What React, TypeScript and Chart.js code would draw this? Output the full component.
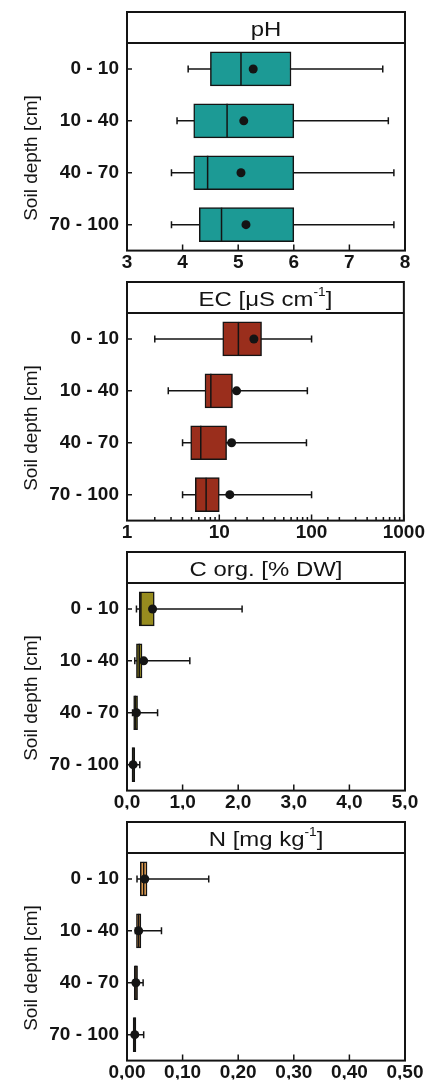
import React, { useEffect, useRef } from 'react';
import { Chart, registerables } from 'chart.js';

Chart.register(...registerables);

const depthLabels = ['0 - 10', '10 - 40', '40 - 70', '70 - 100'];
const yAxisTitle = 'Soil depth [cm]';

// pH
const phMin = [4.1, 3.9, 3.8, 3.8];
const phQ1 = [4.5, 4.2, 4.2, 4.3];
const phMedian = [5.05, 4.8, 4.45, 4.7];
const phQ3 = [5.95, 6.0, 6.0, 6.0];
const phMax = [7.6, 7.7, 7.8, 7.8];
const phMean = [5.27, 5.1, 5.05, 5.14];

// EC [µS cm-1]
const ecMin = [2.0, 2.8, 4.0, 4.0];
const ecQ1 = [10.9, 7.0, 4.9, 5.5];
const ecMedian = [16.1, 8.1, 6.3, 7.2];
const ecQ3 = [28.7, 13.9, 12.0, 10.0];
const ecMax = [100, 90, 88, 100];
const ecMean = [23.7, 15.4, 13.6, 13.0];

// C org [% DW]
const cMin = [0.17, 0.14, 0.1, 0.08];
const cQ1 = [0.22, 0.17, 0.12, 0.09];
const cMedian = [0.25, 0.22, 0.15, 0.11];
const cQ3 = [0.49, 0.27, 0.19, 0.14];
const cMax = [2.07, 1.13, 0.55, 0.23];
const cMean = [0.46, 0.3, 0.17, 0.11];

// N [mg kg-1]
const nMin = [0.018, 0.015, 0.012, 0.01];
const nQ1 = [0.024, 0.017, 0.013, 0.011];
const nMedian = [0.03, 0.021, 0.016, 0.014];
const nQ3 = [0.036, 0.025, 0.019, 0.016];
const nMax = [0.147, 0.062, 0.029, 0.03];
const nMean = [0.032, 0.021, 0.016, 0.014];

const FONT = '"Liberation Sans", Arial, Helvetica, sans-serif';
const INK = '#141414';

type Seg = { t: string; sup?: boolean };

interface PanelCfg {
  title: Seg[];
  color: string;
  min: number[];
  q1: number[];
  med: number[];
  q3: number[];
  max: number[];
  mean: number[];
  log: boolean;
  xMin: number;
  xMax: number;
  step?: number;
  fmt: (v: number) => string;
}

const panels: PanelCfg[] = [
  {
    title: [{ t: 'pH' }],
    color: '#1c9a95',
    min: phMin, q1: phQ1, med: phMedian, q3: phQ3, max: phMax, mean: phMean,
    log: false, xMin: 3, xMax: 8, step: 1,
    fmt: (v) => String(Math.round(v)),
  },
  {
    title: [{ t: 'EC [μS cm' }, { t: '-1', sup: true }, { t: ']' }],
    color: '#9a2e1c',
    min: ecMin, q1: ecQ1, med: ecMedian, q3: ecQ3, max: ecMax, mean: ecMean,
    log: true, xMin: 1, xMax: 1000,
    fmt: (v) => {
      const l = Math.log10(v);
      return Math.abs(l - Math.round(l)) < 1e-6 ? String(Math.round(v)) : '';
    },
  },
  {
    title: [{ t: 'C org. [% DW]' }],
    color: '#978c1f',
    min: cMin, q1: cQ1, med: cMedian, q3: cQ3, max: cMax, mean: cMean,
    log: false, xMin: 0, xMax: 5, step: 1,
    fmt: (v) => v.toFixed(1).replace('.', ','),
  },
  {
    title: [{ t: 'N [mg kg' }, { t: '-1', sup: true }, { t: ']' }],
    color: '#e9a252',
    min: nMin, q1: nQ1, med: nMedian, q3: nQ3, max: nMax, mean: nMean,
    log: false, xMin: 0, xMax: 0.5, step: 0.1,
    fmt: (v) => v.toFixed(2).replace('.', ','),
  },
];

function makePlugin(cfg: PanelCfg) {
  return {
    id: 'boxDecor',
    beforeDatasetsDraw(chart: any) {
      const { ctx } = chart;
      const xs = chart.scales.x;
      const ys = chart.scales.y;
      ctx.save();
      ctx.strokeStyle = INK;
      ctx.lineWidth = 1.5;
      for (let i = 0; i < depthLabels.length; i++) {
        const y = ys.getPixelForValue(i);
        const x1 = xs.getPixelForValue(cfg.min[i]);
        const x2 = xs.getPixelForValue(cfg.max[i]);
        ctx.beginPath();
        ctx.moveTo(x1, y);
        ctx.lineTo(x2, y);
        ctx.moveTo(x1, y - 3.5);
        ctx.lineTo(x1, y + 3.5);
        ctx.moveTo(x2, y - 3.5);
        ctx.lineTo(x2, y + 3.5);
        ctx.stroke();
      }
      ctx.restore();
    },
    afterDatasetDraw(chart: any, args: any) {
      if (args.meta.type !== 'bar') return;
      const { ctx } = chart;
      const xs = chart.scales.x;
      ctx.save();
      ctx.strokeStyle = INK;
      ctx.lineWidth = 1.5;
      args.meta.data.forEach((el: any, i: number) => {
        const x = xs.getPixelForValue(cfg.med[i]);
        const h = el.height / 2;
        ctx.beginPath();
        ctx.moveTo(x, el.y - h);
        ctx.lineTo(x, el.y + h);
        ctx.stroke();
      });
      ctx.restore();
    },
    afterDraw(chart: any) {
      const { ctx, chartArea } = chart;
      const { left, right, top, bottom } = chartArea;
      const xs = chart.scales.x;
      const ys = chart.scales.y;
      ctx.save();
      ctx.strokeStyle = INK;
      // inward ticks
      ctx.lineWidth = 1.5;
      ctx.beginPath();
      xs.ticks.forEach((t: any) => {
        const x = xs.getPixelForValue(t.value);
        let len = 6;
        if (cfg.log) {
          const l = Math.log10(t.value);
          len = Math.abs(l - Math.round(l)) < 1e-6 ? 6 : 3.5;
        }
        ctx.moveTo(x, bottom);
        ctx.lineTo(x, bottom - len);
      });
      for (let i = 0; i < depthLabels.length; i++) {
        const y = ys.getPixelForValue(i);
        ctx.moveTo(left, y);
        ctx.lineTo(left + 5, y);
      }
      ctx.stroke();
      // frame
      const frameTop = top - 31;
      ctx.lineWidth = 2;
      ctx.strokeRect(left, frameTop, right - left, bottom - frameTop);
      ctx.beginPath();
      ctx.moveTo(left, top);
      ctx.lineTo(right, top);
      ctx.stroke();
      // title (slightly widened, as in the reference)
      ctx.fillStyle = INK;
      ctx.textBaseline = 'alphabetic';
      const mainFont = `21px ${FONT}`;
      const supFont = `12px ${FONT}`;
      const sx = 1.14;
      let total = 0;
      cfg.title.forEach((s) => {
        ctx.font = s.sup ? supFont : mainFont;
        total += ctx.measureText(s.t).width;
      });
      const cx = (left + right) / 2;
      const base = frameTop + 24;
      ctx.save();
      ctx.translate(cx, 0);
      ctx.scale(sx, 1);
      let x = -total / 2;
      cfg.title.forEach((s) => {
        ctx.font = s.sup ? supFont : mainFont;
        ctx.textAlign = 'left';
        ctx.fillText(s.t, x, s.sup ? base - 10 : base);
        x += ctx.measureText(s.t).width;
      });
      ctx.restore();
      // y axis title
      ctx.save();
      ctx.translate(32, 158);
      ctx.rotate(-Math.PI / 2);
      ctx.font = `19px ${FONT}`;
      ctx.textAlign = 'center';
      ctx.textBaseline = 'middle';
      ctx.fillText(yAxisTitle, 0, 0);
      ctx.restore();
      ctx.restore();
    },
  };
}

function Panel({ cfg }: { cfg: PanelCfg }) {
  const ref = useRef<HTMLCanvasElement | null>(null);
  useEffect(() => {
    if (!ref.current) return;
    const boxData = cfg.q1.map((q, i) => [q, cfg.q3[i]]);
    const chart = new Chart(ref.current, {
      type: 'bar',
      data: {
        labels: depthLabels,
        datasets: [
          {
            type: 'line',
            label: 'Mean',
            data: cfg.mean,
            indexAxis: 'y',
            showLine: false,
            pointRadius: 4.5,
            pointHoverRadius: 4.5,
            pointBackgroundColor: INK,
            pointBorderColor: INK,
            pointBorderWidth: 0,
            order: 0,
          } as any,
          {
            type: 'bar',
            label: 'Box',
            data: boxData as any,
            indexAxis: 'y',
            backgroundColor: cfg.color,
            borderColor: INK,
            borderWidth: 1.5,
            borderSkipped: false,
            barThickness: 34,
            grouped: false,
            order: 1,
          } as any,
        ],
      },
      options: {
        indexAxis: 'y',
        responsive: false,
        animation: false,
        devicePixelRatio: 1,
        layout: { padding: { top: 43, right: 21, left: 0, bottom: 0 } },
        plugins: {
          legend: { display: false },
          tooltip: { enabled: false },
          title: { display: false },
        },
        scales: {
          x: {
            type: cfg.log ? 'logarithmic' : 'linear',
            min: cfg.xMin,
            max: cfg.xMax,
            grid: { display: false, drawTicks: false },
            border: { display: false },
            ticks: {
              ...(cfg.step ? { stepSize: cfg.step } : {}),
              autoSkip: false,
              maxRotation: 0,
              minRotation: 0,
              padding: 1,
              color: INK,
              font: { family: FONT, size: 19, weight: 'bold' },
              callback: (v: any) => cfg.fmt(Number(v)),
            },
            afterFit: (s: any) => {
              s.height = 19;
            },
          } as any,
          y: {
            type: 'category',
            grid: { display: false, drawTicks: false },
            border: { display: false },
            ticks: {
              padding: 8,
              color: INK,
              font: { family: FONT, size: 19, weight: 'bold' },
            },
            afterFit: (s: any) => {
              s.width = 127;
            },
          } as any,
        },
      } as any,
      plugins: [makePlugin(cfg)],
    });
    return () => chart.destroy();
  }, [cfg]);
  return (
    <div style={{ width: 426, height: 270, position: 'relative' }}>
      <canvas ref={ref} width={426} height={270} style={{ display: 'block', width: 426, height: 270 }} />
    </div>
  );
}

export default function App() {
  return (
    <div style={{ position: 'absolute', left: 0, top: 0, width: 426, height: 1082, background: '#fff' }}>
      {panels.map((p, i) => (
        <Panel key={i} cfg={p} />
      ))}
    </div>
  );
}
